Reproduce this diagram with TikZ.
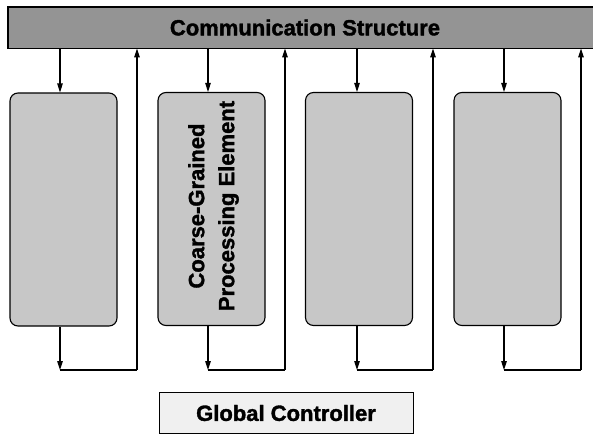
\documentclass[tikz,border=0pt]{standalone}
\usepackage{fontspec}
\setmainfont{Liberation Sans}[BoldFeatures={FakeBold=1.6}]
\usetikzlibrary{arrows.meta}

\tikzset{
  busfill/.style={fill=black!42, draw=none, minimum width=590pt, minimum height=41pt, inner sep=0pt},
  pebox/.style={fill=black!22, draw=black, line width=1.1pt, rounded corners=8pt,
    minimum width=107pt, minimum height=233pt, inner sep=0pt},
  ctrlbox/.style={fill=black!6, draw=black, line width=1pt,
    minimum width=254pt, minimum height=41pt, inner sep=0pt},
  label/.style={font=\fontsize{22}{30}\selectfont\bfseries},
  arr/.style={line width=1.1pt, -{Triangle[length=9pt,width=5.5pt]}},
  wire/.style={line width=1.1pt},
}

\begin{document}
\begin{tikzpicture}[x=1pt, y=-1pt]
  \useasboundingbox (0,0) rectangle (593,434);

  % communication bus (runs off the right edge)
  \node[busfill, anchor=north west] (cs) at (8,7) {};
  \draw[line width=1.3pt] (cs.north east) -- (cs.north west) -- (cs.south west) -- (cs.south east);
  \node[label] (cslabel) at (305,27.5) {Communication Structure};

  % processing elements
  \node[pebox] (pe1) at (63.5,209.5) {};
  \node[pebox] (pe2) at (211.5,209) {};
  \node[pebox] (pe3) at (359,209) {};
  \node[pebox] (pe4) at (507.5,209) {};

  \node[label, rotate=90, align=center] (pelabel) at ([xshift=2pt, yshift=3pt]pe2.center)
    {Coarse-Grained\\Processing Element};

  % global controller
  \node[ctrlbox] (gc) at (286,412.5) {};
  \node[label] (gclabel) at (286,413) {Global Controller};

  % per-element links: bus -> PE, PE -> loop -> bus
  \foreach \i/\dx/\ux in {1/60/137, 2/208/285, 3/357/433, 4/504/581} {
    \coordinate (top\i) at (\dx,0 |- pe\i.north);
    \coordinate (bot\i) at (\dx,0 |- pe\i.south);
    \coordinate (turn\i) at (\dx,370);
    \coordinate (ret\i) at (\ux,370);
    \draw[arr] (cs.south -| top\i) -- (top\i);
    \draw[arr] (bot\i) -- (turn\i);
    \draw[wire] (turn\i) -- (ret\i);
    \draw[arr] (ret\i) -- (ret\i |- cs.south);
  }
\end{tikzpicture}
\end{document}
